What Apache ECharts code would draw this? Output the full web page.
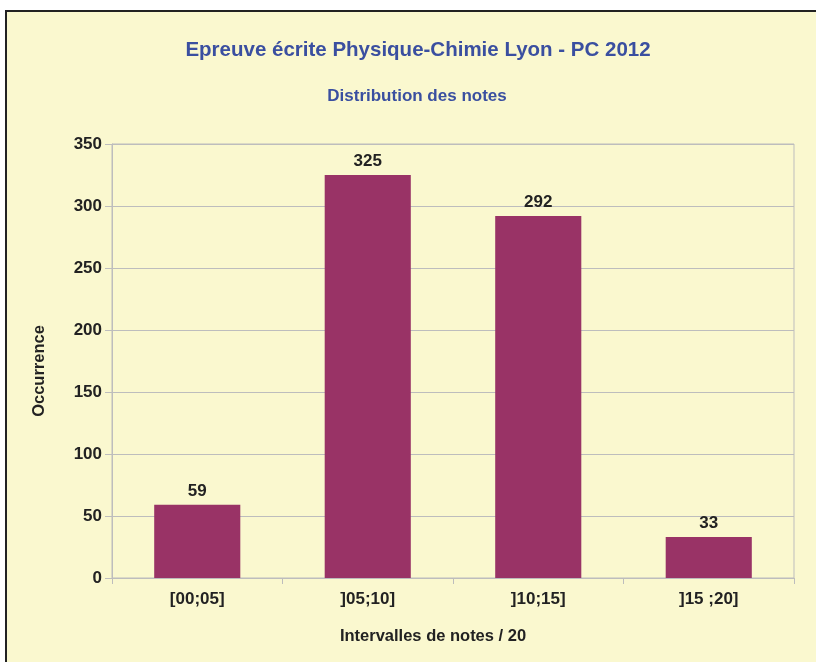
<!DOCTYPE html>
<html><head><meta charset="utf-8">
<script src="https://cdn.jsdelivr.net/npm/echarts@6/dist/echarts.min.js"></script>
<style>html,body{margin:0;padding:0;background:#fff}#c{width:816px;height:662px}</style>
</head><body><div id="c"></div>
<script>
const categories = ['[00;05]', ']05;10]', ']10;15]', ']15 ;20]'];
const counts = [59, 325, 292, 33];
const yTicks = [0, 50, 100, 150, 200, 250, 300, 350];

const chart = echarts.init(document.getElementById('c'));
const font = 'Liberation Sans, Arial, sans-serif';
chart.setOption({
  backgroundColor: '#ffffff',
  animation: false,
  graphic: [{
    type: 'rect', z: -10, silent: true,
    shape: {x: 6, y: 11, width: 840, height: 680},
    style: {fill: '#FAF8CF', stroke: '#222222', lineWidth: 2}
  }],
  title: [{
    text: 'Epreuve écrite Physique-Chimie Lyon - PC 2012',
    left: 413, top: 35, textAlign: 'center',
    textStyle: {fontFamily: font, fontWeight: 'bold', fontSize: 20.5, color: '#3A4FA0'}
  }, {
    text: 'Distribution des notes',
    left: 412, top: 83, textAlign: 'center',
    textStyle: {fontFamily: font, fontWeight: 'bold', fontSize: 17, color: '#3A4FA0'}
  }],
  grid: {left: 112, top: 144, width: 682, height: 434, show: true, borderColor: '#BDBDBD', borderWidth: 1, backgroundColor: 'transparent'},
  xAxis: {
    type: 'category', data: categories,
    name: 'Intervalles de notes / 20', nameLocation: 'middle', nameGap: 50,
    nameTextStyle: {fontFamily: font, fontWeight: 'bold', fontSize: 16.5, color: '#222', padding: [0, 40, 0, 0]},
    axisLine: {lineStyle: {color: '#BDBDBD'}},
    axisTick: {show: true, length: 6, lineStyle: {color: '#BDBDBD'}},
    axisLabel: {fontFamily: font, fontWeight: 'bold', fontSize: 17, color: '#222', margin: 13}
  },
  yAxis: {
    type: 'value', min: 0, max: 350, interval: 50,
    name: 'Occurrence', nameLocation: 'middle', nameGap: 64, nameRotate: 90,
    nameTextStyle: {fontFamily: font, fontWeight: 'bold', fontSize: 16.5, color: '#222', padding: [0, 20, 0, 0]},
    axisLine: {show: true, lineStyle: {color: '#BDBDBD'}},
    axisTick: {show: true, length: 7, lineStyle: {color: '#BDBDBD'}},
    splitLine: {lineStyle: {color: '#BDBDBD'}},
    axisLabel: {fontFamily: font, fontWeight: 'bold', fontSize: 17, color: '#222', margin: 10,
      formatter: v => yTicks.includes(v) ? String(v) : ''}
  },
  series: [{
    type: 'bar', data: counts, barWidth: '50.5%',
    itemStyle: {color: '#993366'},
    label: {show: true, position: 'top', distance: 5, fontFamily: font, fontWeight: 'bold', fontSize: 17, color: '#222'}
  }]
});
</script></body></html>
